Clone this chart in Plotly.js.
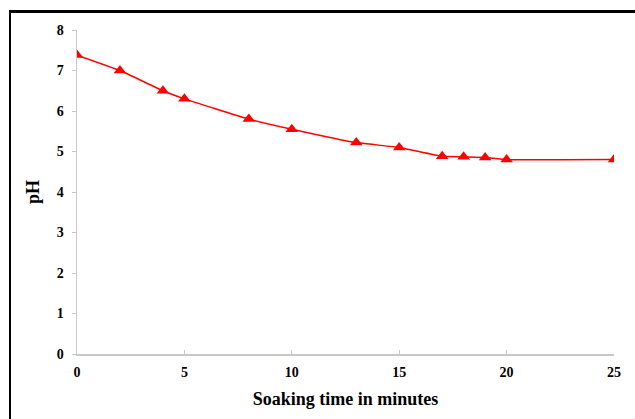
<!DOCTYPE html>
<html>
<head>
<meta charset="utf-8">
<script src="https://cdn.plot.ly/plotly-3.0.1.min.js"></script>
<style>
html,body{margin:0;padding:0;background:#fff;}
#frame{position:absolute;left:9px;top:10px;width:700px;height:500px;border-left:2px solid #000;border-top:3px solid #000;}
#chart{position:absolute;left:0;top:0;width:635px;height:419px;}
</style>
</head>
<body>
<div id="frame"></div>
<div id="chart"></div>
<script>
const soakingTime = [0, 2, 4, 5, 8, 10, 13, 15, 17, 18, 19, 20, 25];
const pHValues = [7.38, 7.0, 6.5, 6.3, 5.8, 5.55, 5.22, 5.1, 4.88, 4.87, 4.85, 4.8, 4.8];
const xTicks = [0, 5, 10, 15, 20, 25];
const yTicks = [0, 1, 2, 3, 4, 5, 6, 7, 8];

const font = {family: '"Liberation Serif", "Times New Roman", serif', color: '#000'};

Plotly.newPlot('chart', [{
  x: soakingTime,
  y: pHValues,
  mode: 'lines+markers',
  line: {color: '#ff0000', width: 1.5, shape: 'spline', smoothing: 0.3},
  marker: {symbol: 'triangle-up', color: '#ff0000', size: 11},
  showlegend: false
}], {
  width: 635, height: 419,
  margin: {l: 76.5, r: 21, t: 30, b: 65},
  paper_bgcolor: 'rgba(0,0,0,0)',
  plot_bgcolor: 'rgba(0,0,0,0)',
  font: font,
  xaxis: {
    range: [0, 25], tickvals: xTicks, ticktext: xTicks.map(String),
    showgrid: false, zeroline: false, showline: true, linecolor: '#c8c8c8', linewidth: 1.5,
    ticks: 'inside', ticklen: 4, tickcolor: '#c8c8c8', tickwidth: 1,
    tickfont: {family: font.family, size: 14, color: '#000', weight: 'bold'},
    ticklabelstandoff: 5,
    title: {text: '<b>Soaking time in minutes</b>', font: {family: font.family, size: 18, color: '#000'}, standoff: 13}
  },
  yaxis: {
    range: [0, 8], tickvals: yTicks, ticktext: yTicks.map(String),
    showgrid: false, zeroline: false, showline: true, linecolor: '#c8c8c8', linewidth: 1.5,
    ticks: 'outside', ticklen: 4, tickcolor: '#c8c8c8', tickwidth: 1,
    tickfont: {family: font.family, size: 14, color: '#000', weight: 'bold'},
    ticklabelstandoff: 5,
    title: {text: '<b>pH</b>', font: {family: font.family, size: 18, color: '#000'}, standoff: 12}
  }
}, {staticPlot: true});
</script>
</body>
</html>
